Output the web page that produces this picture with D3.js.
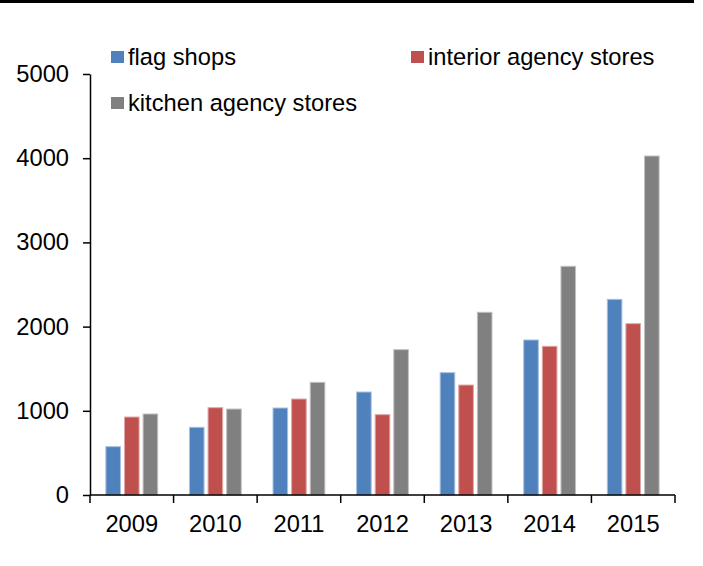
<!DOCTYPE html>
<html>
<head>
<meta charset="utf-8">
<script src="https://cdn.jsdelivr.net/npm/d3@7"></script>
<style>
  html, body { margin: 0; padding: 0; background: #fff; }
  svg { display: block; font-family: "Liberation Sans", Arial, sans-serif; }
</style>
</head>
<body>
<div id="chart"></div>
<script>
// data
const years = ["2009", "2010", "2011", "2012", "2013", "2014", "2015"];
const flagShops = [574, 804, 1033, 1223, 1453, 1841, 2324];
const interiorAgency = [926, 1037, 1140, 954, 1306, 1766, 2035];
const kitchenAgency = [962, 1021, 1338, 1726, 2170, 2716, 4026];
const yTicks = [0, 1000, 2000, 3000, 4000, 5000];

const series = [
    { key: "flag", label: "flag shops", values: flagShops, color: "#4F81BD", edge: "#a7c0de" },
    { key: "interior", label: "interior agency stores", values: interiorAgency, color: "#C0504D", edge: "#dfa7a6" },
    { key: "kitchen", label: "kitchen agency stores", values: kitchenAgency, color: "#808080", edge: "#c0c0c0" }
];

const width = 703, height = 566;
const margin = { top: 74, right: 28, bottom: 71, left: 90 };
const fontSize = 23.7;

const svg = d3.select("#chart").append("svg")
    .attr("width", width)
    .attr("height", height);

// top rule
svg.append("line")
    .attr("x1", 0).attr("x2", 694)
    .attr("y1", 1.5).attr("y2", 1.5)
    .attr("stroke", "#000")
    .attr("stroke-width", 3);

const xScale = d3.scaleBand()
    .domain(years)
    .range([margin.left, width - margin.right])
    .padding(0);

const bw = xScale.bandwidth();
const inner = d3.scaleBand()
    .domain(series.map(s => s.key))
    .range([bw * 0.19, bw * 0.81])
    .paddingInner(0.216)
    .paddingOuter(0);

const yScale = d3.scaleLinear()
    .domain([0, 5000])
    .range([height - margin.bottom, margin.top]);

// bars
const groups = svg.append("g").selectAll("g")
    .data(years)
    .enter()
    .append("g")
    .attr("transform", d => `translate(${xScale(d)},0)`);

groups.selectAll("rect")
    .data((d, i) => series.map(s => ({ s: s, v: s.values[i] })))
    .enter()
    .append("rect")
    .attr("x", d => inner(d.s.key))
    .attr("width", inner.bandwidth())
    .attr("y", d => yScale(d.v))
    .attr("height", d => yScale(0) - yScale(d.v))
    .attr("fill", d => d.s.color)
    .attr("stroke", d => d.s.edge)
    .attr("stroke-width", 1);

// y axis
const yAxis = svg.append("g")
    .attr("transform", `translate(${margin.left},0)`)
    .call(d3.axisLeft(yScale)
        .tickValues(yTicks)
        .tickFormat(d3.format("d"))
        .tickSize(7)
        .tickSizeOuter(0)
        .tickPadding(14));
yAxis.select(".domain").attr("stroke", "#000").attr("stroke-width", 1.5);
yAxis.selectAll(".tick line").attr("stroke", "#000").attr("stroke-width", 1.5);
yAxis.selectAll("text")
    .attr("font-size", fontSize)
    .attr("font-family", "'Liberation Sans', Arial, sans-serif")
    .attr("fill", "#000");

// x axis: ticks on the category boundaries
const xAxisG = svg.append("g")
    .attr("transform", `translate(0,${yScale(0)})`);
xAxisG.append("line")
    .attr("x1", margin.left).attr("x2", width - margin.right)
    .attr("stroke", "#000").attr("stroke-width", 1.5);
const bounds = years.map(y => xScale(y)).concat([xScale.range()[1]]);
xAxisG.selectAll(".xtick")
    .data(bounds)
    .enter()
    .append("line")
    .attr("class", "xtick")
    .attr("x1", d => d).attr("x2", d => d)
    .attr("y1", 0).attr("y2", 8)
    .attr("stroke", "#000").attr("stroke-width", 1.5);
xAxisG.selectAll(".xlabel")
    .data(years)
    .enter()
    .append("text")
    .attr("class", "xlabel")
    .attr("x", d => xScale(d) + bw / 2)
    .attr("y", 37)
    .attr("text-anchor", "middle")
    .attr("font-size", fontSize)
    .attr("fill", "#000")
    .text(d => d);

// legend
const legendPos = [[111, 57], [411, 57], [111, 103]];
const legend = svg.append("g").selectAll("g")
    .data(series)
    .enter()
    .append("g")
    .attr("transform", (d, i) => `translate(${legendPos[i][0]},${legendPos[i][1]})`);
legend.append("rect")
    .attr("x", 0).attr("y", -6)
    .attr("width", 13).attr("height", 12)
    .attr("fill", d => d.color);
legend.append("text")
    .attr("x", 17)
    .attr("y", 8)
    .attr("font-size", fontSize)
    .attr("fill", "#000")
    .text(d => d.label);
</script>
</body>
</html>
